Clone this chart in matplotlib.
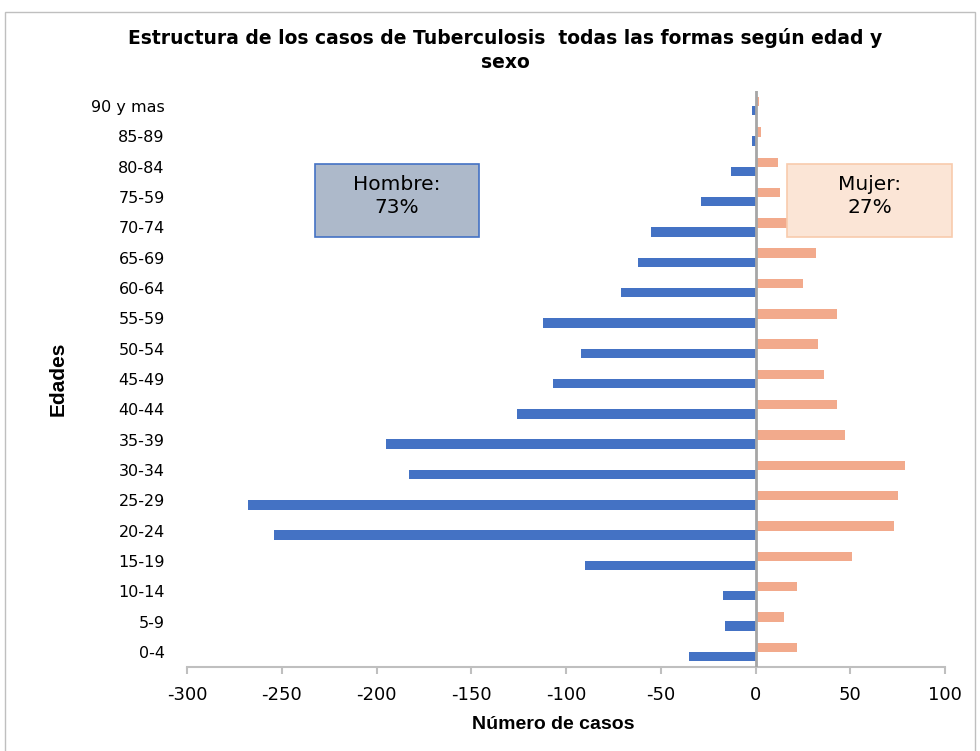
import matplotlib.pyplot as plt
from matplotlib.patches import Rectangle
import numpy as np

# Datos: grupos de edad (de abajo hacia arriba) y numero de casos
edades = ['0-4', '5-9', '10-14', '15-19', '20-24', '25-29', '30-34', '35-39',
          '40-44', '45-49', '50-54', '55-59', '60-64', '65-69', '70-74',
          '75-59', '80-84', '85-89', '90 y mas']
hombres = [-35, -16, -17, -90, -254, -268, -183, -195, -126, -107,
           -92, -112, -71, -62, -55, -29, -13, -2, -2]
mujeres = [22, 15, 22, 51, 73, 75, 79, 47, 43, 36,
           33, 43, 25, 32, 17, 13, 12, 3, 2]
xticks = [-300, -250, -200, -150, -100, -50, 0, 50, 100]

col_h = '#4472c4'
col_m = '#f2aa8c'
gris = '#a6a6a6'

fig = plt.figure(figsize=(9.8, 7.51), dpi=100)
ax = fig.add_axes([187/980, 1 - 667/751, 758/980, 576/751])

y = np.arange(len(edades))
alto = 0.31
ax.barh(y - 0.15, hombres, height=alto, color=col_h, zorder=2)
ax.barh(y + 0.15, mujeres, height=alto, color=col_m, zorder=2)
ax.axvline(0, color=gris, lw=2, zorder=3)

ax.set_xlim(-300, 100)
ax.set_ylim(-0.5, len(edades) - 0.5)
ax.set_xticks(xticks)
ax.set_xticklabels([str(v) for v in xticks], fontsize=13, family='DejaVu Sans')
ax.set_yticks(y)
ax.set_yticklabels(edades, fontsize=11.5, family='DejaVu Sans')

for s in ['top', 'right', 'left']:
    ax.spines[s].set_visible(False)
ax.spines['bottom'].set_color('#bfbfbf')
ax.spines['bottom'].set_linewidth(1.5)
ax.tick_params(axis='x', direction='out', length=5, width=1.5, color='#bfbfbf', pad=9)
ax.tick_params(axis='y', length=0, pad=16)

ax.set_xlabel('Número de casos', fontsize=14, fontweight='bold',
              family=['Liberation Sans', 'DejaVu Sans'])
ax.xaxis.set_label_coords(0.483, -0.085)
ax.set_ylabel('Edades', fontsize=15, fontweight='bold',
              family=['Liberation Sans Narrow', 'Liberation Sans', 'DejaVu Sans'])
ax.yaxis.set_label_coords(-0.158, 0.5)

fig.text(505/980, 1 - 50/751,
         'Estructura de los casos de Tuberculosis  todas las formas según edad y\nsexo',
         ha='center', va='center', fontsize=13.5, fontweight='bold',
         family='DejaVu Sans', linespacing=1.4)

# Cuadros de porcentaje
fig.patches.append(Rectangle((315/980, 1 - 237/751), 164/980, 73/751,
                             transform=fig.transFigure, facecolor='#adb9ca',
                             edgecolor='#4472c4', lw=1.2, zorder=5))
fig.text(397/980, 1 - 196/751, 'Hombre:\n73%', ha='center', va='center',
         fontsize=14.5, family='DejaVu Sans', linespacing=1.3, zorder=6)
fig.patches.append(Rectangle((787/980, 1 - 237/751), 165/980, 73/751,
                             transform=fig.transFigure, facecolor='#fbe5d6',
                             edgecolor='#f8cbad', lw=1.2, zorder=5))
fig.text(870/980, 1 - 196/751, 'Mujer:\n27%', ha='center', va='center',
         fontsize=14.5, family='DejaVu Sans', linespacing=1.3, zorder=6)

# Marco exterior
fig.patches.append(Rectangle((5/980, -0.01), 970/980, 1.01 - 12/751,
                             transform=fig.transFigure, facecolor='none',
                             edgecolor='#bfbfbf', lw=1))

fig.savefig('out.png', dpi=100)
